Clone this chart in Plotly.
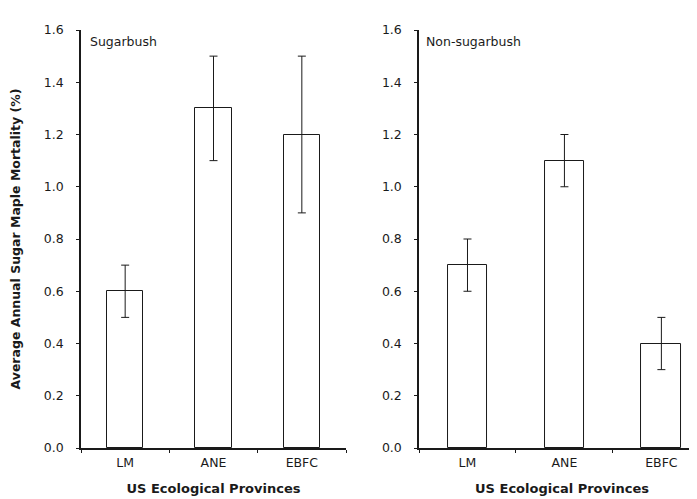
import plotly.graph_objects as go
from plotly.subplots import make_subplots

categories = ["LM", "ANE", "EBFC"]
sugarbush_vals = [0.6, 1.3, 1.2]
sugarbush_err = [0.1, 0.2, 0.3]
nonsugar_vals = [0.7, 1.1, 0.4]
nonsugar_err = [0.1, 0.1, 0.1]
y_ticks = [0.0, 0.2, 0.4, 0.6, 0.8, 1.0, 1.2, 1.4, 1.6]

ink = "#1a1a1a"
fam = "DejaVu Sans, Verdana, sans-serif"
font = dict(family=fam, size=12.5, color=ink)
title_font = dict(family=fam, size=13, color=ink)

fig = make_subplots(rows=1, cols=2)

for col, vals, errs in [(1, sugarbush_vals, sugarbush_err), (2, nonsugar_vals, nonsugar_err)]:
    fig.add_trace(go.Bar(
        x=categories, y=vals, width=0.41,
        marker=dict(color="white", line=dict(color=ink, width=1)),
        error_y=dict(type="data", array=errs, visible=True, color=ink, thickness=1, width=4),
        showlegend=False,
    ), row=1, col=col)

fig.update_layout(
    width=697, height=499,
    margin=dict(l=73, r=0, t=22, b=59),
    paper_bgcolor="white", plot_bgcolor="white",
    font=font,
    bargap=0,
)

xcommon = dict(type="category", showline=True, linecolor=ink, linewidth=1.5,
               ticks="outside", ticklen=3, tickcolor=ink, tickwidth=1, tickson="boundaries",
               showgrid=False, zeroline=False, tickfont=font, ticklabelstandoff=2,
               title=dict(text="<b>US Ecological Provinces</b>", font=title_font, standoff=15))
fig.update_xaxes(**xcommon)
fig.update_xaxes(domain=[0, 0.4247], range=[-0.5, 2.5], row=1, col=1)
fig.update_xaxes(domain=[0.5417, 1.0], range=[-0.5, 2.45], row=1, col=2)

ycommon = dict(range=[0, 1.6], tickvals=y_ticks, tickformat=".1f", showline=True, linecolor=ink,
               linewidth=1.5, ticks="outside", ticklen=3, tickcolor=ink, tickwidth=1,
               showgrid=False, zeroline=False, tickfont=font, ticklabelstandoff=10)
fig.update_yaxes(**ycommon)
fig.update_yaxes(title=dict(text="<b>Average Annual Sugar Maple Mortality (%)</b>",
                            font=dict(family=fam, size=12.5, color=ink), standoff=20),
                 row=1, col=1)

fig.add_annotation(text="Sugarbush", xref="x domain", yref="y domain", x=0.025, y=0.995,
                   xanchor="left", yanchor="top", showarrow=False, font=font)
fig.add_annotation(text="Non-sugarbush", xref="x2 domain", yref="y2 domain", x=0.018, y=0.995,
                   xanchor="left", yanchor="top", showarrow=False, font=font)

fig.write_html("out.html")
